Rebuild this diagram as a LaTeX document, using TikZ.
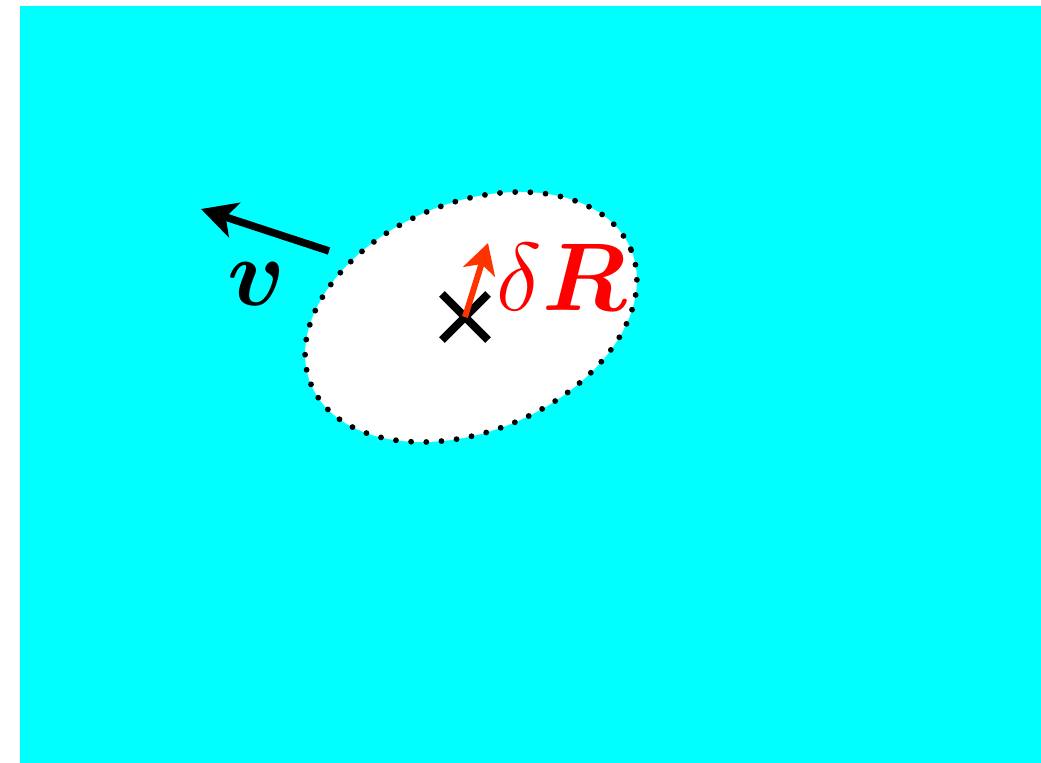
\documentclass[tikz,border=0pt]{standalone}
\usepackage{amsmath,amssymb,bm}
\usepackage{graphicx}
\usepackage{xcolor}
\usetikzlibrary{arrows.meta,shapes.geometric,shapes.misc}
\definecolor{sea}{HTML}{00FFFF}
\definecolor{ink}{HTML}{000000}
\definecolor{shiftred}{HTML}{FF3300}
\definecolor{labelred}{HTML}{FF0000}
\newcommand{\bigmath}[1]{\scalebox{1.1}{$#1$}}
\tikzset{
  biglabel/.style={inner sep=0pt, font=\Huge},
  hole/.style={ellipse, fill=white, draw=ink, line width=0.058cm, line cap=round,
    dash pattern=on 0pt off 0.152cm, inner sep=0pt,
    minimum width=3.47cm, minimum height=2.28cm},
  centremark/.style={cross out, draw=ink, line width=0.08cm, inner sep=0pt, minimum size=0.38cm},
  velarrow/.style={-{Stealth[length=0.35cm,width=0.36cm,inset=0.09cm]}, line width=0.075cm, draw=ink},
  shiftarrow/.style={-{Stealth[length=0.30cm,width=0.33cm,inset=0.08cm]}, line width=0.06cm, draw=shiftred},
}
\begin{document}
\begin{tikzpicture}[x=0.01cm,y=-0.01cm]
\useasboundingbox (0,0) rectangle (1041,763);
\fill[sea] (20,6) rectangle (1041,763);
% cavity left behind by the moving particle
\node[hole, rotate=23] (cavity) at (471,317) {};
\node[centremark] (centre) at (465,317) {};
% velocity
\coordinate (vtail) at (329,251);
\coordinate (vtip) at (201,209);
\draw[velarrow] (vtail) -- (vtip);
\node[biglabel, anchor=base] (vlab) at (257,305) {\bigmath{\boldsymbol{v}}};
% displacement
\coordinate (shifttip) at (488,243);
\draw[shiftarrow] (centre.center) -- (shifttip);
\node[biglabel, anchor=base west, text=labelred] (shiftlab) at (496,310) {\bigmath{\delta\boldsymbol{R}}};
\end{tikzpicture}
\end{document}
